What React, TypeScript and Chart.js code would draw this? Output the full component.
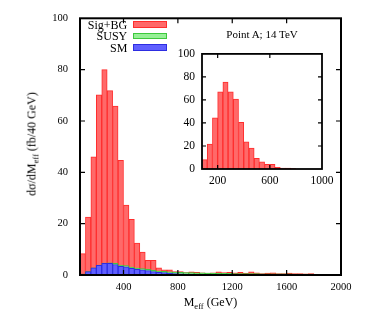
import React, { useEffect, useRef } from 'react';
import { Chart, registerables } from 'chart.js';

Chart.register(...registerables);

// ---- data ----
const binCenters = [
  100, 140, 180, 220, 260, 300, 340, 380, 420, 460, 500, 540, 580, 620, 660, 700,
  740, 780, 820, 860, 900, 940, 980, 1020, 1060, 1100, 1140, 1180, 1220, 1260, 1300, 1340,
  1380, 1420, 1460, 1500, 1540, 1580, 1620, 1660, 1700, 1740, 1780, 1820, 1860, 1900, 1940, 1980,
];
const sigBG = [
  8.3, 22.6, 46, 70.2, 80, 71.8, 65.8, 44.7, 27.2, 21.7, 12.4, 8.9, 5.7, 5.7, 2.8, 2.0,
  2.0, 1.3, 1.3, 0.9, 1.2, 1.0, 0.8, 0.7, 0.8, 1.2, 0.9, 1.0, 0.8, 1.0, 0.7, 1.2,
  0.8, 0.6, 0.7, 0.8, 0.6, 0.6, 0.7, 0.6, 0.6, 0.5, 0.6, 0, 0, 0, 0, 0,
];
const susy = [
  0.4, 1.3, 2.8, 3.9, 4.6, 4.7, 4.5, 3.9, 3.7, 3.1, 2.7, 2.5, 2.2, 1.8, 1.5, 1.4,
  1.2, 1.1, 1.0, 0.9, 0.9, 0.8, 0.8, 0.75, 0.7, 0.7, 0.65, 0.65, 0.6, 0.6, 0.6, 0.55,
  0.55, 0.5, 0.5, 0.5, 0.5, 0.45, 0.45, 0.4, 0.4, 0.4, 0.35, 0, 0, 0, 0, 0,
];
const sm = [
  0.4, 1.3, 2.8, 3.8, 4.5, 4.5, 4.1, 3.4, 3.2, 2.6, 2.2, 2.0, 1.7, 1.3, 1.0, 0.9,
  0.7, 0.6, 0.5, 0.4, 0.4, 0.3, 0.3, 0.25, 0.2, 0.2, 0.15, 0.15, 0.1, 0.1, 0.1, 0.1,
  0.08, 0.08, 0.06, 0.06, 0.05, 0.05, 0.05, 0.04, 0.04, 0.03, 0.03, 0, 0, 0, 0, 0,
];
const insetCenters = [
  100, 140, 180, 220, 260, 300, 340, 380, 420, 460, 500, 540, 580, 620, 660, 700,
  740, 780, 820, 860, 900, 940, 980,
];
const insetSigBG = [
  8.2, 21.6, 44.5, 67, 75.6, 67, 60.8, 40.6, 23.5, 18.2, 9.2, 6.2, 4.0, 4.0, 1.5, 0.8,
  0.8, 0.4, 0, 0, 0, 0, 0,
];
const mainXTicks = [400, 800, 1200, 1600, 2000];
const mainYTicks = [0, 20, 40, 60, 80, 100];
const insetXTicks = [200, 600, 1000];
const insetYTicks = [0, 20, 40, 60, 80, 100];
const legendLabels = ['Sig+BG', 'SUSY', 'SM'];

const RED_FILL = 'rgb(255, 105, 105)';
const RED_LINE = 'rgb(255, 45, 45)';
const GREEN_FILL = 'rgb(150, 240, 150)';
const GREEN_LINE = 'rgb(60, 200, 60)';
const BLUE_FILL = 'rgb(95, 95, 255)';
const BLUE_LINE = 'rgb(45, 45, 225)';

const FONT = "'Liberation Serif', 'Times New Roman', serif";

const framePlugin = {
  id: 'frame',
  afterDatasetsDraw(chart: any, _args: any, opts: any) {
    const { ctx, chartArea: a, scales } = chart;
    const L = opts.tickLen;
    ctx.save();
    ctx.strokeStyle = '#000';
    ctx.lineWidth = opts.tickWidth;
    ctx.beginPath();
    for (const t of scales.x.ticks) {
      const px = scales.x.getPixelForValue(t.value);
      if (px <= a.left + 1 || px >= a.right - 1) continue;
      ctx.moveTo(px, a.bottom);
      ctx.lineTo(px, a.bottom - L);
      ctx.moveTo(px, a.top);
      ctx.lineTo(px, a.top + L);
    }
    for (const t of scales.y.ticks) {
      const py = scales.y.getPixelForValue(t.value);
      if (py <= a.top + 1 || py >= a.bottom - 1) continue;
      ctx.moveTo(a.left, py);
      ctx.lineTo(a.left + L, py);
      ctx.moveTo(a.right, py);
      ctx.lineTo(a.right - L, py);
    }
    ctx.stroke();
    ctx.lineWidth = opts.frameWidth;
    ctx.strokeRect(a.left, a.top, a.right - a.left, a.bottom - a.top);
    ctx.restore();
  },
};

function toXY(xs: number[], ys: number[]) {
  return xs.map((x, i) => ({ x, y: ys[i] }));
}

function barDataset(label: string, xs: number[], ys: number[], fill: string, line: string, order: number) {
  return {
    label,
    data: toXY(xs, ys),
    backgroundColor: fill,
    borderColor: line,
    borderWidth: 1,
    grouped: false,
    barPercentage: 1,
    categoryPercentage: 1,
    order,
  };
}

function makeScales(
  xMin: number, xMax: number, xTicks: number[], yTicks: number[],
  fontSize: number, xPad: number, yPad: number, xHeight: number, yWidth: number,
) {
  const font = { family: FONT, size: fontSize };
  return {
    x: {
      type: 'linear' as const,
      min: xMin,
      max: xMax,
      offset: false,
      afterBuildTicks: (s: any) => { s.ticks = xTicks.map((v) => ({ value: v })); },
      afterFit: (s: any) => { s.height = xHeight; },
      ticks: { font, color: '#000', padding: xPad, maxRotation: 0, autoSkip: false, callback: (v: any) => String(v) },
      grid: { display: false, drawTicks: false, offset: false },
      border: { display: false },
    },
    y: {
      type: 'linear' as const,
      min: 0,
      max: 100,
      afterBuildTicks: (s: any) => { s.ticks = yTicks.map((v) => ({ value: v })); },
      afterFit: (s: any) => { s.width = yWidth; },
      ticks: { font, color: '#000', padding: yPad, callback: (v: any) => String(v) },
      grid: { display: false, drawTicks: false },
      border: { display: false },
    },
  };
}

export default function App() {
  const mainRef = useRef<HTMLCanvasElement>(null);
  const insetRef = useRef<HTMLCanvasElement>(null);

  useEffect(() => {
    const main = new Chart(mainRef.current!, {
      type: 'bar',
      data: {
        datasets: [
          barDataset(legendLabels[0], binCenters, sigBG, RED_FILL, RED_LINE, 3),
          barDataset(legendLabels[1], binCenters, susy, GREEN_FILL, GREEN_LINE, 2),
          barDataset(legendLabels[2], binCenters, sm, BLUE_FILL, BLUE_LINE, 1),
        ] as any,
      },
      options: {
        responsive: false,
        animation: false,
        devicePixelRatio: 1,
        layout: { padding: { left: 0, right: 41, top: 14, bottom: 0 } },
        scales: makeScales(80, 2000, mainXTicks, mainYTicks, 10.5, 6, 12, 46, 80) as any,
        plugins: {
          legend: { display: false },
          tooltip: { enabled: false },
          frame: { tickLen: 5, tickWidth: 1.2, frameWidth: 2 },
        } as any,
      },
      plugins: [framePlugin],
    });
    const inset = new Chart(insetRef.current!, {
      type: 'bar',
      data: {
        datasets: [barDataset(legendLabels[0], insetCenters, insetSigBG, RED_FILL, RED_LINE, 1)] as any,
      },
      options: {
        responsive: false,
        animation: false,
        devicePixelRatio: 1,
        layout: { padding: { left: 0, right: 20, top: 10, bottom: 0 } },
        scales: makeScales(80, 1000, insetXTicks, insetYTicks, 11.5, 5, 7, 21, 42) as any,
        plugins: {
          legend: { display: false },
          tooltip: { enabled: false },
          frame: { tickLen: 4, tickWidth: 1.2, frameWidth: 1.8 },
        } as any,
      },
      plugins: [framePlugin],
    });
    return () => {
      main.destroy();
      inset.destroy();
    };
  }, []);

  const sub = (t: string) => (
    <span style={{ fontSize: 8.5, position: 'relative', top: 3 }}>{t}</span>
  );
  const legendFills = [[RED_FILL, RED_LINE], [GREEN_FILL, GREEN_LINE], [BLUE_FILL, BLUE_LINE]];
  const legendY = [24.5, 36, 47.5];

  return (
    <div style={{ position: 'absolute', left: 0, top: 0, width: 382, height: 321, background: '#fff', fontFamily: FONT, color: '#000' }}>
      <canvas ref={mainRef} width={382} height={321} style={{ position: 'absolute', left: 0, top: 0 }} />
      <canvas ref={insetRef} width={182} height={150} style={{ position: 'absolute', left: 160, top: 40 }} />
      {legendLabels.map((lab, i) => (
        <React.Fragment key={lab}>
          <div style={{ position: 'absolute', left: 50, width: 77.3, top: legendY[i] - 7, height: 14, lineHeight: '14px', fontSize: 12, textAlign: 'right', whiteSpace: 'nowrap' }}>{lab}</div>
          <div style={{ position: 'absolute', left: 133.3, width: 33.4, top: legendY[i] - 3.4, height: 6.8, boxSizing: 'border-box', background: legendFills[i][0], border: `1px solid ${legendFills[i][1]}` }} />
        </React.Fragment>
      ))}
      <div style={{ position: 'absolute', left: 262, top: 33.5, transform: 'translate(-50%, -50%)', fontSize: 11, lineHeight: '14px', whiteSpace: 'nowrap' }}>Point A; 14 TeV</div>
      <div style={{ position: 'absolute', left: 210.5, top: 302, transform: 'translate(-50%, -50%)', fontSize: 12, lineHeight: '14px', whiteSpace: 'nowrap' }}>M{sub('eff')} (GeV)</div>
      <div style={{ position: 'absolute', left: 31.5, top: 144, transform: 'translate(-50%, -50%) rotate(-90deg)', fontSize: 12, lineHeight: '14px', whiteSpace: 'nowrap' }}>dσ/dM{sub('eff')} (fb/40 GeV)</div>
    </div>
  );
}
